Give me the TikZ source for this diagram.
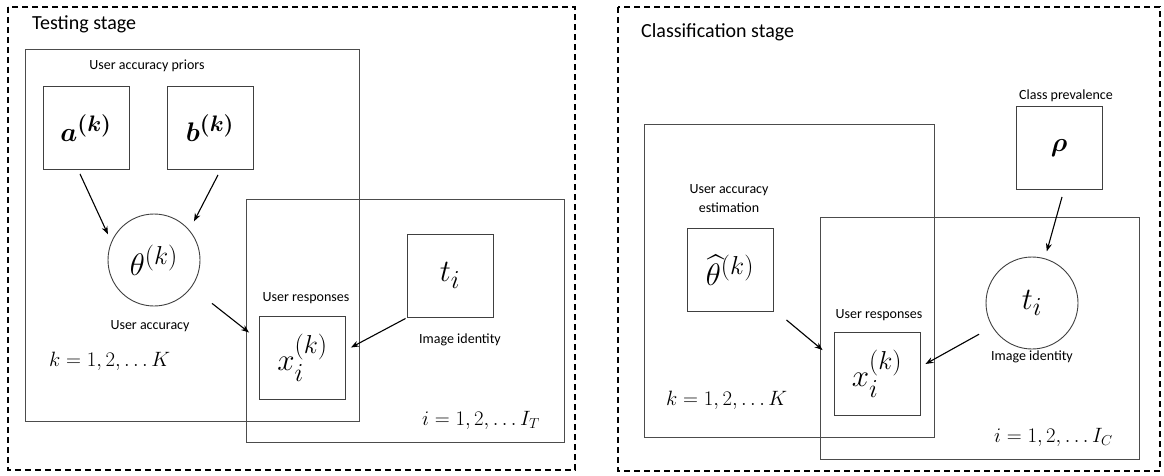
\documentclass[tikz,border=0pt]{standalone}
\usepackage{amsmath}
\usepackage{graphicx}
\usepackage{fontspec}
\setmainfont{Carlito}
\usetikzlibrary{arrows.meta}
% large math symbols inside the variable boxes
\newcommand{\varsym}[2]{\scalebox{#1}{\fontsize{24.88}{30}\selectfont$#2$}}
\begin{document}
\begin{tikzpicture}[x=1pt,y=-1pt,
  stage/.style={draw=black, line width=1.2pt, dash pattern=on 6pt off 4pt},
  plate/.style={draw=black!70, line width=0.9pt},
  varbox/.style={draw=black!75, line width=0.9pt, minimum width=86pt, minimum height=83pt, inner sep=0pt},
  varcirc/.style={draw=black!75, line width=0.9pt, circle, minimum size=92pt, inner sep=0pt},
  lbl/.style={font=\fontsize{14}{16}\selectfont, inner sep=0pt, align=center},
  ttl/.style={font=\fontsize{20}{24}\selectfont, inner sep=0pt, anchor=west},
  idx/.style={font=\fontsize{20.74}{25}\selectfont, inner sep=0pt, anchor=west},
  arr/.style={-{Stealth[length=8pt,width=6pt]}, line width=1.1pt, black}]
\useasboundingbox (0,0) rectangle (1164,475);

% ---------------- Testing stage ----------------
\draw[stage] (8,7) rectangle (575,470);
\node[ttl] (ttlT) at (32,24) {Testing stage};
\draw[plate] (25,49) rectangle (359,421);
\draw[plate] (246,199) rectangle (564,442);

\node[lbl] (priors) at (147,66) {User accuracy priors};
\node[varbox] (a) at (86,128) {\varsym{1.08}{\boldsymbol{a^{(k)}}}};
\node[varbox] (b) at (210,128) {\varsym{1.08}{\boldsymbol{b^{(k)}}}};
\node[varcirc] (theta) at (154,260) {\varsym{1.25}{\theta^{(k)}}};
\node[lbl] (uacc) at (150,326) {User accuracy};
\node[idx] (kT) at (49,361) {$k = 1, 2, \ldots K$};

\node[lbl] (respT) at (306,298) {User responses};
\node[varbox] (xT) at (302.5,357.5) {\varsym{1.25}{x_i^{(k)}}};
\node[varbox] (tT) at (450,275.5) {\varsym{1.25}{t_i}};
\node[lbl] (imgT) at (460,340) {Image identity};
\node[idx] (iT) at (422,420) {$i = 1, 2, \ldots I_T$};

\draw[arr] ([shift={(-6,4)}]a.south) -- ([shift={(-8,1)}]theta.145);
\draw[arr] ([shift={(8,5)}]b.south) -- ([shift={(6,-7)}]theta.43);
\draw[arr, shorten <=26pt] (theta.-36) -- ([shift={(-10,-25)}]xT.west);
\draw[arr] ([shift={(-1,1)}]tT.south west) -- ([shift={(5,-10)}]xT.east);

% ---------------- Classification stage ----------------
\draw[stage] (618,7) rectangle (1160,471);
\node[ttl] (ttlC) at (641,32) {Classification stage};
\draw[plate] (644,124) rectangle (934,437);
\draw[plate] (820,217) rectangle (1139,459);

\node[lbl] (uest) at (729,199) {User accuracy\\[3pt]estimation};
\node[varbox] (thhat) at (730,270) {\varsym{1.25}{\widehat{\theta}^{(k)}}};
\node[idx] (kC) at (666,400) {$k = 1, 2, \ldots K$};

\node[lbl] (prev) at (1066,96) {Class prevalence};
\node[varbox] (rho) at (1059,148) {\varsym{1.08}{\boldsymbol{\rho}}};
\node[varcirc] (tC) at (1032,303) {\varsym{1.25}{t_i}};
\node[lbl] (imgC) at (1032,357) {Image identity};

\node[lbl] (respC) at (879,315) {User responses};
\node[varbox] (xC) at (877,374) {\varsym{1.25}{x_i^{(k)}}};
\node[idx] (iC) at (994,437) {$i = 1, 2, \ldots I_C$};

\draw[arr] ([shift={(3,7)}]rho.south) -- ([shift={(2,-7)}]tC.74);
\draw[arr] ([shift={(13,8)}]thhat.south east) -- ([shift={(-11,18)}]xC.north west);
\draw[arr, shorten <=15pt] (tC.211.6) -- ([shift={(5,-10)}]xC.east);
\end{tikzpicture}
\end{document}
